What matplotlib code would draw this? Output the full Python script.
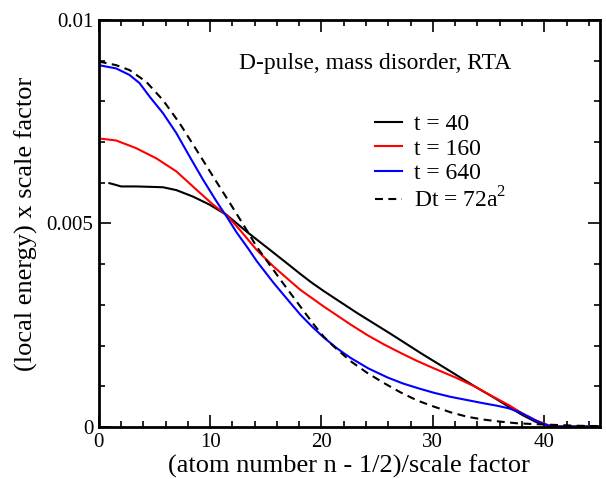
import matplotlib
matplotlib.use("Agg")
import matplotlib.pyplot as plt
from matplotlib.ticker import MultipleLocator

plt.rcParams['font.family'] = ['Liberation Serif', 'DejaVu Serif']
plt.rcParams['mathtext.fontset'] = 'custom'
plt.rcParams['mathtext.rm'] = 'Liberation Serif'

# t = 40 (black), y in units of 1e-3
x40 = [0.96, 1.5, 2.01, 3.36, 4.6, 5.77, 6.97, 8.47, 9.97, 11.48, 13.28, 15.38, 17.0, 18.1, 19.1, 20.2, 23.2, 26.2, 29.0, 31.5, 33.8, 35.5, 36.8, 38.0, 39.2, 40.4, 41.0, 45.0]
y40 = [5.99, 5.95, 5.91, 5.91, 5.90, 5.89, 5.82, 5.66, 5.46, 5.21, 4.80, 4.35, 4.00, 3.76, 3.55, 3.34, 2.80, 2.29, 1.80, 1.38, 0.99, 0.72, 0.50, 0.30, 0.13, 0.03, 0.01, 0.01]

# t = 160 (red)
x160 = [0.3, 1.56, 3.36, 5.17, 6.97, 8.77, 10.28, 11.48, 12.68, 14.18, 15.7, 17.0, 18.1, 20.2, 22.6, 24.1, 25.6, 27.1, 28.6, 30.1, 32.0, 33.8, 35.3, 36.8, 38.0, 39.2, 40.4, 41.0, 45.0]
y160 = [7.08, 7.04, 6.85, 6.60, 6.28, 5.83, 5.46, 5.21, 4.84, 4.35, 3.94, 3.63, 3.37, 2.96, 2.52, 2.26, 2.03, 1.82, 1.62, 1.44, 1.22, 0.99, 0.76, 0.54, 0.34, 0.17, 0.04, 0.01, 0.01]

# t = 640 (blue)
x640 = [0.0, 1.56, 2.76, 3.66, 4.56, 5.77, 6.97, 8.17, 9.38, 10.58, 11.48, 12.38, 13.43, 14.2, 15.7, 17.2, 18.1, 19.1, 20.2, 21.4, 22.6, 24.2, 25.9, 27.3, 28.7, 30.1, 31.6, 33.1, 34.6, 35.8, 36.8, 37.8, 38.6, 39.5, 40.4, 41.0, 45.0]
y640 = [8.89, 8.81, 8.65, 8.45, 8.12, 7.71, 7.22, 6.64, 6.07, 5.54, 5.17, 4.78, 4.38, 4.07, 3.54, 3.05, 2.76, 2.48, 2.20, 1.93, 1.70, 1.44, 1.22, 1.07, 0.95, 0.84, 0.74, 0.66, 0.58, 0.52, 0.46, 0.36, 0.25, 0.12, 0.03, 0.01, 0.01]

# Dt = 72a^2 (dashed)
xdt = [0.0, 1.56, 2.76, 4.27, 5.77, 7.27, 8.77, 10.28, 11.78, 13.28, 14.18, 15.1, 16.5, 17.8, 18.4, 19.3, 20.2, 21.1, 22.6, 24.1, 25.6, 27.1, 28.6, 30.1, 31.6, 33.1, 34.6, 36.1, 37.6, 39.2, 41.0, 43.0, 45.0]
ydt = [8.98, 8.89, 8.77, 8.48, 8.03, 7.46, 6.81, 6.15, 5.50, 4.84, 4.43, 4.08, 3.55, 3.07, 2.85, 2.52, 2.22, 1.98, 1.62, 1.33, 1.08, 0.85, 0.65, 0.50, 0.36, 0.25, 0.18, 0.13, 0.09, 0.07, 0.05, 0.03, 0.02]

labels = ['t = 40', 't = 160', 't = 640', r'Dt = 72a$^\mathregular{2}$']
title_text = 'D-pulse, mass disorder, RTA'

fig = plt.figure(figsize=(6.06, 4.79), dpi=100)
ax = fig.add_axes([0.1629, 0.1086, 0.8271, 0.8497])

s = 1e-3
ax.plot(x40, [v * s for v in y40], color='black', lw=1.5, label=labels[0])
ax.plot(x160, [v * s for v in y160], color='red', lw=1.5, label=labels[1])
ax.plot(x640, [v * s for v in y640], color='blue', lw=1.5, label=labels[2])
ax.plot(xdt, [v * s for v in ydt], color='black', lw=1.5, ls=(0, (3.8, 2.6)), label=labels[3])

ax.set_xlim(0, 45)
ax.set_ylim(0, 0.01)
ax.xaxis.set_minor_locator(MultipleLocator(2))
ax.yaxis.set_minor_locator(MultipleLocator(0.001))
ax.set_xticks([0, 10, 20, 30, 40])
ax.set_xticklabels(['0', '10', '20', '30', '40'])
ax.set_yticks([0, 0.005, 0.01])
ax.set_yticklabels(['0', '0.005', '0.01'])
ax.tick_params(which='both', direction='in', top=True, right=True, labelsize=15, width=1.2)
ax.tick_params(which='major', length=8.5, pad=4)
ax.tick_params(which='minor', length=4.5)
for sp in ax.spines.values():
    sp.set_linewidth(2)

ax.set_xlabel('(atom number n - 1/2)/scale factor', fontsize=19, labelpad=2)
ax.set_ylabel('(local energy) x scale factor', fontsize=19, labelpad=6)

ax.text(0.28, 0.894, title_text, transform=ax.transAxes,
        ha='left', va='center', fontsize=17)

leg = ax.legend(loc='upper left', bbox_to_anchor=(0.551, 0.77), frameon=False,
                fontsize=17, handlelength=1.15, handletextpad=0.5, labelspacing=0.13,
                borderaxespad=0, borderpad=0)

fig.savefig('out.png', dpi=100)
